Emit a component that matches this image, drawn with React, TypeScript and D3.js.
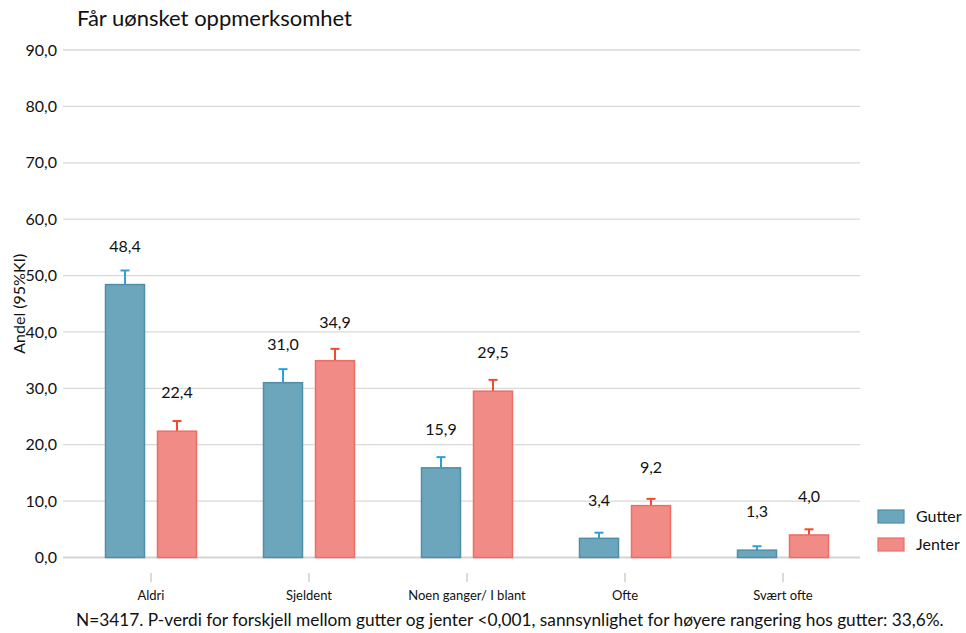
import React from "react";
import * as d3 from "d3";

// Response categories and shares (%) by group, with upper 95% CI bound
const categories = ["Aldri", "Sjeldent", "Noen ganger/ I blant", "Ofte", "Svært ofte"];
const groups = ["Gutter", "Jenter"];
const gutterValues = [48.4, 31.0, 15.9, 3.4, 1.3];
const jenterValues = [22.4, 34.9, 29.5, 9.2, 4.0];
const gutterUpper = [50.9, 33.4, 17.8, 4.4, 2.0];
const jenterUpper = [24.2, 37.0, 31.5, 10.4, 5.0];
const yTicks = [0, 10, 20, 30, 40, 50, 60, 70, 80, 90];

const title = "Får uønsket oppmerksomhet";
const yTitle = "Andel (95%KI)";
const footnote =
  "N=3417. P-verdi for forskjell mellom gutter og jenter <0,001, sannsynlighet for høyere rangering hos gutter: 33,6%.";

const W = 966;
const H = 633;
const FONT = "Lato, 'Open Sans', sans-serif";

const fills = { Gutter: "#6ba6bd", Jenter: "#f08b85" };
const strokes = { Gutter: "#4f8ea9", Jenter: "#ee6e66" };
const errColors = { Gutter: "#2d9fdb", Jenter: "#f24a2e" };

const fmt = (v: number) => v.toFixed(1).replace(".", ",");

export default function App() {
  const y = d3.scaleLinear().domain([0, 90]).range([557.5, 50]);
  const x0 = d3.scaleBand<string>().domain(categories).range([72, 862]);
  const x1 = d3
    .scaleBand<string>()
    .domain(groups)
    .range([-45.5, 45.5])
    .paddingInner(0.25);

  const rows = categories.map((c, i) => ({
    cat: c,
    items: [
      { g: "Gutter", v: gutterValues[i], hi: gutterUpper[i] },
      { g: "Jenter", v: jenterValues[i], hi: jenterUpper[i] },
    ],
  }));

  const gridX0 = 63;
  const gridX1 = 860;

  return (
    <svg
      width={W}
      height={H}
      style={{ position: "absolute", left: 0, top: 0, display: "block", background: "#fff" }}
      fontFamily={FONT}
    >
      <text x={77} y={26} fontSize={22} fill="#111">
        {title}
      </text>

      {/* horizontal gridlines and y tick labels */}
      {yTicks.map((t) => (
        <g key={t}>
          <line
            x1={gridX0}
            x2={gridX1}
            y1={y(t)}
            y2={y(t)}
            stroke={t === 0 ? "#d4d4d4" : "#d9d9d9"}
            strokeWidth={t === 0 ? 2 : 1.3}
          />
          <text x={57} y={y(t)} dy="0.35em" textAnchor="end" fontSize={16} fill="#111">
            {fmt(t)}
          </text>
        </g>
      ))}

      <text
        transform={`translate(19, ${(y(0) + y(90)) / 2}) rotate(-90)`}
        textAnchor="middle"
        dy="0.35em"
        fontSize={16}
        fill="#111"
      >
        {yTitle}
      </text>

      {/* bars, error bars and value labels */}
      {rows.map((r) => {
        const cx = (x0(r.cat) ?? 0) + x0.bandwidth() / 2;
        return (
          <g key={r.cat}>
            {r.items.map((it) => {
              const bx = cx + (x1(it.g) ?? 0);
              const bw = x1.bandwidth();
              const mid = bx + bw / 2;
              const g = it.g as "Gutter" | "Jenter";
              return (
                <g key={it.g}>
                  <line x1={mid} x2={mid} y1={y(it.v)} y2={y(it.hi)} stroke={errColors[g]} strokeWidth={2} />
                  <line x1={mid - 4.5} x2={mid + 4.5} y1={y(it.hi)} y2={y(it.hi)} stroke={errColors[g]} strokeWidth={2} />
                  <rect
                    x={bx}
                    y={y(it.v)}
                    width={bw}
                    height={y(0) - y(it.v)}
                    fill={fills[g]}
                    stroke={strokes[g]}
                    strokeWidth={1.5}
                  />
                  <text x={mid} y={y(it.v + 6.8)} dy="0.35em" textAnchor="middle" fontSize={16} fill="#111">
                    {fmt(it.v)}
                  </text>
                </g>
              );
            })}
            <line x1={cx} x2={cx} y1={573} y2={582} stroke="#c8c8c8" strokeWidth={1.3} />
            <text x={cx} y={600} textAnchor="middle" fontSize={13} fill="#111">
              {r.cat}
            </text>
          </g>
        );
      })}

      {/* legend */}
      {groups.map((g, i) => (
        <g key={g} transform={`translate(878, ${510 + i * 28})`}>
          <rect
            width={26}
            height={13}
            fill={fills[g as "Gutter" | "Jenter"]}
            stroke={strokes[g as "Gutter" | "Jenter"]}
            strokeWidth={1.2}
          />
          <text x={38} y={6.5} dy="0.35em" fontSize={16} fill="#111">
            {g}
          </text>
        </g>
      ))}

      <text x={76} y={626} fontSize={17.3} fill="#111">
        {footnote}
      </text>
    </svg>
  );
}
